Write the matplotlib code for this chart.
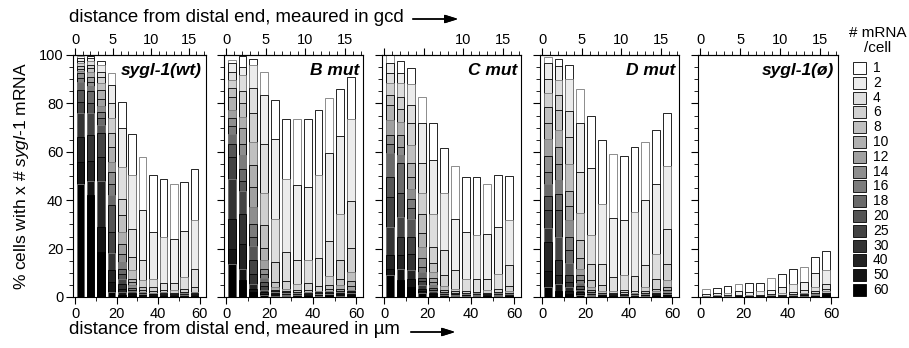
import matplotlib
matplotlib.use("Agg")
import matplotlib.pyplot as plt
from matplotlib.patches import Rectangle
from matplotlib.ticker import MultipleLocator, FixedLocator
import numpy as np

plt.rcParams['font.family'] = ['Liberation Sans', 'DejaVu Sans']
plt.rcParams['mathtext.fontset'] = 'custom'
plt.rcParams['mathtext.rm'] = 'Liberation Sans'
plt.rcParams['mathtext.it'] = 'Liberation Sans:italic'

# mRNA/cell classes (legend) and grey level of each class
classes = ["1", "2", "4", "6", "8", "10", "12", "14", "16", "18", "20", "25", "30", "40", "50", "60"]
greys = ["#ffffff", "#ececec", "#dedede", "#d0d0d0", "#c0c0c0", "#b0b0b0", "#a0a0a0", "#8e8e8e",
         "#7c7c7c", "#6a6a6a", "#555555", "#434343", "#333333", "#232323", "#141414", "#000000"]

# bar positions, µm from distal end
dist_um = [2.5, 7.5, 12.5, 17.5, 22.5, 27.5, 32.5, 37.5, 42.5, 47.5, 52.5, 57.5]

# % cells with >= class mRNA, one row per bar, one column per class
wt = [
    [99.6, 98.6, 97.7, 96.6, 95.4, 94.3, 93.4, 92.4, 90.6, 89.0, 85.5, 80.7, 76.1, 66.2, 55.9, 46.9],
    [99.6, 98.6, 97.5, 96.0, 94.5, 93.0, 91.0, 89.0, 87.0, 85.0, 80.0, 76.0, 67.0, 56.0, 48.0, 42.0],
    [97.7, 96.0, 93.0, 91.0, 88.5, 85.5, 82.0, 79.0, 76.5, 73.8, 71.0, 67.6, 58.0, 48.0, 29.0, 18.6],
    [92.4, 87.6, 80.0, 73.8, 67.6, 61.8, 55.9, 51.7, 46.6, 42.0, 38.0, 27.0, 18.0, 11.0, 6.0, 2.0],
    [80.7, 69.7, 53.8, 40.7, 33.8, 26.9, 22.0, 17.9, 14.5, 11.7, 9.7, 7.6, 5.5, 3.4, 2.0, 1.0],
    [67.3, 50.6, 28.3, 16.6, 11.0, 7.6, 6.2, 4.8, 3.9, 3.0, 2.5, 1.8, 1.4, 1.0, 0.7, 0.4],
    [57.9, 36.1, 15.2, 7.2, 4.1, 2.8, 2.2, 1.8, 1.4, 1.1, 0.9, 0.7, 0.5, 0.3, 0.2, 0.1],
    [50.6, 26.9, 7.6, 4.1, 2.5, 1.8, 1.4, 1.1, 0.9, 0.7, 0.5, 0.4, 0.3, 0.2, 0.1, 0.1],
    [48.6, 24.6, 5.9, 3.0, 2.0, 1.5, 1.2, 1.0, 0.8, 0.6, 0.5, 0.4, 0.3, 0.2, 0.1, 0.0],
    [46.9, 23.9, 5.9, 2.8, 1.8, 1.3, 1.0, 0.8, 0.6, 0.5, 0.4, 0.3, 0.2, 0.1, 0.1, 0.0],
    [47.6, 27.3, 8.3, 3.4, 2.2, 1.6, 1.2, 1.0, 0.8, 0.6, 0.5, 0.4, 0.3, 0.2, 0.1, 0.0],
    [52.7, 31.7, 11.6, 4.1, 2.0, 1.5, 1.2, 1.0, 0.8, 0.6, 0.5, 0.4, 0.3, 0.2, 0.1, 0.0],
]
b_mut = [
    [97.9, 96.8, 93.1, 89.7, 86.2, 82.8, 77.2, 74.0, 70.6, 67.3, 63.4, 57.7, 48.6, 32.4, 20.0, 13.5],
    [99.6, 95.2, 91.7, 85.2, 80.0, 74.5, 70.0, 63.4, 58.6, 52.7, 48.0, 43.9, 34.5, 21.8, 11.7, 7.2],
    [98.2, 95.9, 86.2, 76.1, 64.1, 54.5, 45.5, 37.2, 30.1, 24.8, 21.0, 15.2, 9.7, 5.5, 3.4, 2.0],
    [93.1, 83.4, 63.2, 43.0, 29.7, 20.4, 15.2, 11.7, 9.7, 8.0, 6.2, 4.4, 3.0, 2.0, 1.4, 0.8],
    [81.4, 65.1, 32.1, 14.5, 6.2, 4.1, 3.0, 2.5, 2.0, 1.6, 1.3, 1.0, 0.8, 0.5, 0.3, 0.2],
    [73.4, 48.6, 18.6, 6.6, 3.4, 2.5, 1.9, 1.5, 1.2, 1.0, 0.8, 0.6, 0.4, 0.3, 0.2, 0.1],
    [73.4, 46.2, 15.2, 5.2, 2.8, 2.0, 1.5, 1.2, 1.0, 0.8, 0.6, 0.5, 0.4, 0.3, 0.2, 0.1],
    [73.4, 45.5, 15.4, 5.8, 3.0, 2.1, 1.6, 1.3, 1.0, 0.8, 0.6, 0.5, 0.4, 0.3, 0.2, 0.1],
    [77.2, 50.6, 16.3, 4.4, 2.6, 1.9, 1.5, 1.2, 1.0, 0.8, 0.6, 0.5, 0.4, 0.3, 0.2, 0.1],
    [82.1, 59.3, 23.2, 8.6, 4.8, 3.4, 2.6, 2.0, 1.6, 1.3, 1.0, 0.8, 0.6, 0.4, 0.3, 0.2],
    [85.8, 66.5, 34.1, 15.4, 7.6, 4.8, 3.4, 2.6, 2.0, 1.6, 1.3, 1.0, 0.8, 0.5, 0.3, 0.2],
    [91.0, 73.4, 39.7, 20.4, 10.3, 6.6, 4.4, 3.0, 2.4, 1.9, 1.5, 1.2, 0.9, 0.6, 0.4, 0.2],
]
c_mut = [
    [100.0, 96.6, 92.4, 88.3, 83.4, 79.3, 73.1, 66.9, 63.4, 59.3, 49.7, 41.4, 29.0, 17.2, 11.7, 9.0],
    [97.7, 92.4, 88.6, 82.8, 77.5, 72.4, 66.9, 62.1, 58.6, 55.2, 42.8, 33.1, 24.8, 17.2, 11.7, 7.2],
    [94.5, 88.0, 79.3, 72.0, 62.8, 55.2, 49.7, 44.8, 40.7, 36.6, 32.4, 24.8, 17.9, 11.0, 7.6, 4.1],
    [82.5, 72.0, 55.2, 42.8, 34.5, 26.5, 20.7, 16.3, 12.4, 10.3, 8.0, 6.6, 4.8, 3.4, 2.5, 1.7],
    [71.7, 56.8, 34.5, 20.7, 14.1, 10.3, 8.0, 6.2, 4.8, 3.9, 3.0, 2.5, 1.8, 1.4, 1.0, 0.7],
    [61.4, 42.8, 19.3, 9.0, 4.4, 2.8, 2.0, 1.5, 1.2, 1.0, 0.8, 0.6, 0.5, 0.4, 0.3, 0.2],
    [54.1, 32.4, 11.0, 3.4, 2.5, 1.8, 1.4, 1.1, 0.9, 0.7, 0.5, 0.4, 0.3, 0.2, 0.1, 0.1],
    [49.4, 26.9, 7.6, 2.5, 1.8, 1.3, 1.0, 0.8, 0.6, 0.5, 0.4, 0.3, 0.2, 0.1, 0.1, 0.0],
    [49.4, 25.5, 7.6, 2.0, 1.5, 1.1, 0.9, 0.7, 0.5, 0.4, 0.3, 0.2, 0.2, 0.1, 0.1, 0.0],
    [46.6, 26.2, 7.6, 2.8, 1.8, 1.3, 1.0, 0.8, 0.6, 0.5, 0.4, 0.3, 0.2, 0.1, 0.1, 0.0],
    [50.3, 29.0, 9.4, 3.4, 2.0, 1.5, 1.2, 0.9, 0.7, 0.5, 0.4, 0.3, 0.2, 0.1, 0.1, 0.0],
    [49.9, 31.7, 13.1, 4.4, 2.5, 1.8, 1.4, 1.1, 0.8, 0.6, 0.5, 0.4, 0.3, 0.2, 0.1, 0.0],
]
d_mut = [
    [99.3, 96.6, 90.0, 84.1, 78.6, 71.7, 65.1, 58.2, 51.7, 46.9, 41.7, 35.9, 28.7, 22.8, 10.8, 4.1],
    [98.2, 95.4, 89.7, 83.4, 77.2, 69.2, 62.1, 54.9, 48.3, 42.5, 36.1, 24.8, 15.2, 9.0, 5.2, 2.5],
    [95.9, 89.9, 77.0, 66.2, 54.9, 43.9, 37.5, 31.7, 24.6, 19.3, 14.1, 9.0, 6.2, 4.1, 2.5, 1.4],
    [85.8, 71.7, 51.7, 34.8, 23.4, 16.3, 11.7, 9.0, 7.2, 5.8, 4.4, 3.4, 2.8, 2.0, 1.4, 1.0],
    [74.8, 53.5, 25.5, 13.5, 6.9, 4.1, 2.8, 2.0, 1.5, 1.2, 1.0, 0.8, 0.6, 0.4, 0.3, 0.2],
    [64.8, 38.6, 13.8, 4.8, 2.5, 1.8, 1.4, 1.1, 0.9, 0.7, 0.5, 0.4, 0.3, 0.2, 0.1, 0.1],
    [58.9, 32.8, 8.3, 2.5, 1.7, 1.3, 1.0, 0.8, 0.6, 0.5, 0.4, 0.3, 0.2, 0.1, 0.1, 0.0],
    [58.3, 32.0, 9.0, 2.8, 1.9, 1.4, 1.1, 0.8, 0.6, 0.5, 0.4, 0.3, 0.2, 0.1, 0.1, 0.0],
    [62.1, 35.2, 8.6, 2.5, 1.7, 1.3, 1.0, 0.8, 0.6, 0.5, 0.4, 0.3, 0.2, 0.1, 0.1, 0.0],
    [63.9, 40.0, 13.1, 4.1, 2.4, 1.7, 1.3, 1.0, 0.8, 0.6, 0.5, 0.4, 0.3, 0.2, 0.1, 0.0],
    [69.0, 46.9, 17.9, 7.6, 3.4, 2.3, 1.7, 1.3, 1.0, 0.8, 0.6, 0.5, 0.4, 0.3, 0.2, 0.1],
    [76.1, 54.1, 27.9, 13.8, 7.2, 4.1, 3.0, 2.3, 1.8, 1.4, 1.1, 0.9, 0.7, 0.5, 0.3, 0.2],
]
null = [
    [3.4, 1.1, 0.5, 0.3, 0.2, 0.1, 0.1, 0.1, 0.0, 0.0, 0.0, 0.0, 0.0, 0.0, 0.0, 0.0],
    [3.9, 1.8, 0.8, 0.5, 0.3, 0.2, 0.1, 0.1, 0.1, 0.0, 0.0, 0.0, 0.0, 0.0, 0.0, 0.0],
    [4.6, 1.8, 0.8, 0.5, 0.3, 0.2, 0.1, 0.1, 0.1, 0.0, 0.0, 0.0, 0.0, 0.0, 0.0, 0.0],
    [5.2, 2.5, 1.0, 0.6, 0.4, 0.3, 0.2, 0.1, 0.1, 0.1, 0.0, 0.0, 0.0, 0.0, 0.0, 0.0],
    [5.8, 2.0, 0.9, 0.5, 0.3, 0.2, 0.1, 0.1, 0.1, 0.0, 0.0, 0.0, 0.0, 0.0, 0.0, 0.0],
    [5.9, 2.5, 1.0, 0.6, 0.4, 0.3, 0.2, 0.1, 0.1, 0.1, 0.0, 0.0, 0.0, 0.0, 0.0, 0.0],
    [8.0, 3.0, 1.2, 0.7, 0.5, 0.3, 0.2, 0.2, 0.1, 0.1, 0.1, 0.0, 0.0, 0.0, 0.0, 0.0],
    [9.4, 4.1, 1.7, 1.0, 0.6, 0.4, 0.3, 0.2, 0.1, 0.1, 0.1, 0.0, 0.0, 0.0, 0.0, 0.0],
    [11.7, 5.2, 2.0, 1.2, 0.8, 0.6, 0.5, 0.4, 0.3, 0.2, 0.2, 0.1, 0.1, 0.0, 0.0, 0.0],
    [12.4, 6.2, 2.8, 1.6, 1.2, 1.0, 0.9, 0.8, 0.8, 0.8, 0.7, 0.7, 0.7, 0.7, 0.6, 0.6],
    [16.6, 9.9, 4.1, 2.5, 1.6, 1.2, 1.0, 0.8, 0.7, 0.6, 0.5, 0.4, 0.4, 0.3, 0.2, 0.1],
    [19.0, 11.0, 5.5, 3.4, 2.5, 1.8, 1.5, 1.3, 1.2, 1.1, 1.0, 1.0, 0.9, 0.9, 0.8, 0.8],
]

panels = [wt, b_mut, c_mut, d_mut, null]
titles = ["sygl-1(wt)", "B mut", "C mut", "D mut", "sygl-1(ø)"]
top_labels = [["0", "5", "10", "15"], ["0", "5", "10", "15"], ["", "", "10", "15"],
              ["0", "5", "10", "15"], ["0", "5", "10", "15"]]

UM_PER_GCD = 3.65

W, H = 909, 348
fig = plt.figure(figsize=(W / 100, H / 100), dpi=100)

lefts = [73, 224, 382, 540, 698]
rights = [206, 363, 521, 679, 838]
bot, top = 297, 55

for p, data in enumerate(panels):
    ax = fig.add_axes([lefts[p] / W, 1 - bot / H, (rights[p] - lefts[p]) / W, (bot - top) / H])
    vals = np.array(data)
    # tallest class first, each following class drawn over it
    for k in range(len(classes)):
        edges = ["#000000" if (i + k) % 3 else "#7a7a7a" for i in range(len(dist_um))]
        ax.bar(dist_um, vals[:, k], width=3.6, color=greys[k], edgecolor=edges, linewidth=0.6)
    ax.set_xlim(-1, 63)
    ax.set_ylim(0, 100)
    ax.xaxis.set_major_locator(FixedLocator([0, 20, 40, 60]))
    ax.xaxis.set_minor_locator(MultipleLocator(10))
    ax.yaxis.set_major_locator(MultipleLocator(20))
    ax.yaxis.set_minor_locator(MultipleLocator(5))
    ax.tick_params(which='major', direction='out', length=5, width=0.8, labelsize=10.5, pad=2)
    ax.tick_params(which='minor', direction='out', length=3, width=0.6)
    if p > 0:
        ax.set_yticklabels([])
    for s in ax.spines.values():
        s.set_linewidth(0.8)

    sec = ax.secondary_xaxis('top', functions=(lambda x: x / UM_PER_GCD, lambda g: g * UM_PER_GCD))
    sec.xaxis.set_major_locator(FixedLocator([0, 5, 10, 15]))
    sec.set_xticklabels(top_labels[p])
    sec.xaxis.set_minor_locator(MultipleLocator(1))
    sec.tick_params(which='major', direction='out', length=5, width=0.8, labelsize=10.5, pad=1)
    sec.tick_params(which='minor', direction='out', length=3, width=0.6)
    sec.spines['top'].set_linewidth(0.8)

    ax.text(0.97, 0.965, titles[p], transform=ax.transAxes, ha='right', va='top',
            fontsize=12.5, fontweight='bold', fontstyle='italic')

fig.text(22 / W, 1 - 176 / H, r"% cells with x # $\it{sygl}$-$\it{1}$ mRNA", rotation=90,
         ha='center', va='center', fontsize=12.5)

fig.text(69 / W, 1 - 18 / H, "distance from distal end, meaured in gcd", ha='left', va='center',
         fontsize=13.4)
fig.text(69 / W, 1 - 330 / H, "distance from distal end, meaured in µm", ha='left', va='center',
         fontsize=13.4)
fig.add_artist(plt.annotate("", xy=(461 / W, 1 - 19 / H), xytext=(410 / W, 1 - 19 / H),
                            xycoords='figure fraction',
                            arrowprops=dict(arrowstyle='-|>,head_length=0.8,head_width=0.25',
                                            color='black', lw=1.0)))
fig.add_artist(plt.annotate("", xy=(458 / W, 1 - 332 / H), xytext=(408 / W, 1 - 332 / H),
                            xycoords='figure fraction',
                            arrowprops=dict(arrowstyle='-|>,head_length=0.8,head_width=0.25',
                                            color='black', lw=1.0)))

# legend drawn by hand for exact spacing
fig.text(878 / W, 1 - 33 / H, "# mRNA", ha='center', va='center', fontsize=11)
fig.text(878 / W, 1 - 48 / H, "/cell", ha='center', va='center', fontsize=11)
for k, lab in enumerate(classes):
    yc = 68 + 14.8 * k
    fig.add_artist(Rectangle((853 / W, 1 - (yc + 6) / H), 13 / W, 12 / H, transform=fig.transFigure,
                             facecolor=greys[k], edgecolor='black', linewidth=0.6))
    fig.text(873 / W, 1 - yc / H, lab, ha='left', va='center', fontsize=10)

fig.savefig("out.png", dpi=100)
